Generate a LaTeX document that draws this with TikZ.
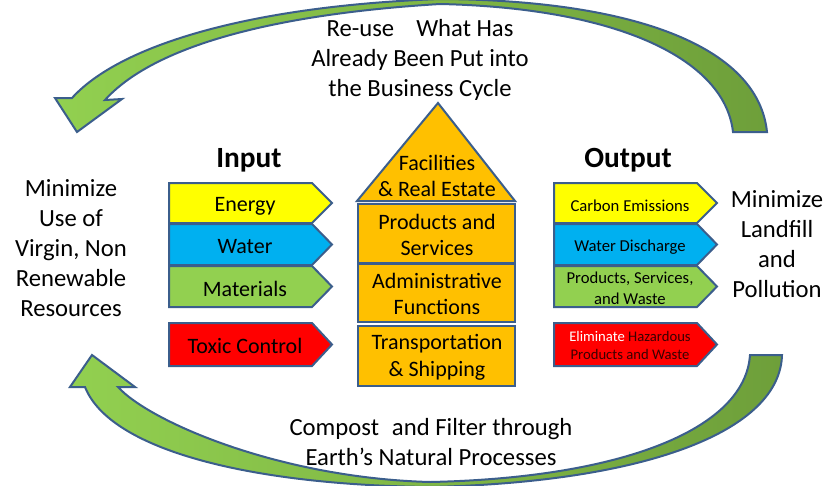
\documentclass[tikz,border=0pt]{standalone}
\usepackage{fontspec}
\setmainfont{Carlito}
\definecolor{bordercol}{HTML}{3B5E8C}
\definecolor{cyellow}{HTML}{FFFF00}
\definecolor{cblue}{HTML}{00B0F0}
\definecolor{cgreen}{HTML}{92D050}
\definecolor{cred}{HTML}{FF0000}
\definecolor{cgold}{HTML}{FFC000}
\definecolor{garrowL}{HTML}{92D050}
\definecolor{garrowR}{HTML}{6E9F3A}
\definecolor{darkred}{HTML}{3A0000}
\begin{document}
\begin{tikzpicture}[x=0.75pt,y=-0.75pt,
  shapebox/.style={draw=bordercol, line width=1.5pt, line join=miter},
  bigarrow/.style={draw=bordercol, line width=1.5pt, line join=miter},
  bigtxt/.style={font=\fontsize{18.5}{22.5}\selectfont, align=center, inner sep=0pt},
  boxtxt/.style={font=\fontsize{16.5}{20}\selectfont, align=center, inner sep=0pt},
  smalltxt/.style={font=\fontsize{12.5}{15.75}\selectfont, align=center, inner sep=0pt},
  tinytxt/.style={font=\fontsize{11}{13.5}\selectfont, align=center, inner sep=0pt},
  headtxt/.style={font=\fontsize{22}{26}\selectfont\bfseries, inner sep=0pt}]
\useasboundingbox (0,0) rectangle (840,486);
\fill[white] (0,0) rectangle (840,486);
\begin{scope}
\clip (0,0) rectangle (840,486);
% top curved arrow
\path[bigarrow, left color=garrowL, right color=garrowR]
  (733,132) -- (767,132)
  .. controls (758,45) and (630,0) .. (440,-1)
  .. controls (250,6) and (120,45) .. (72,98)
  -- (55,98) -- (77,132) -- (122,99) -- (105,100)
  .. controls (150,50) and (260,15) .. (440,4)
  .. controls (620,8) and (725,60) .. (733,132) -- cycle;
% bottom curved arrow
\path[bigarrow, left color=garrowL, right color=garrowR]
  (750,355) -- (782,355)
  .. controls (780,430) and (650,482) .. (430,487)
  .. controls (250,485) and (110,450) .. (85,387)
  -- (70,387) -- (92,355) -- (135,387) -- (118,387)
  .. controls (150,422) and (280,478) .. (430,482)
  .. controls (620,478) and (745,430) .. (750,355) -- cycle;
\end{scope}

% texts around
\node[bigtxt] (reuse) at (420,60) {Re-use\hspace{16.5pt}What Has\\Already Been Put into\\the Business Cycle};
\node[bigtxt] (compost) at (431,442) {Compost\hspace{9.75pt}and Filter through\\Earth’s Natural Processes};
\node[bigtxt] (minuse) at (71,248) {Minimize\\Use of\\Virgin, Non\\Renewable\\Resources};
\node[bigtxt] (minland) at (777,244) {Minimize\\Landfill\\and\\Pollution};
\node[headtxt] (input) at (249,160) {Input};
\node[headtxt] (output) at (628,160) {Output};

% input arrows
\path[shapebox, fill=cyellow] (169,183) -- (312,183) -- (332,203) -- (312,223) -- (169,223) -- cycle;
\path[shapebox, fill=cblue] (169,224) -- (312,224) -- (332,244.5) -- (312,265) -- (169,265) -- cycle;
\path[shapebox, fill=cgreen] (169,266) -- (312,266) -- (332,286.5) -- (312,307) -- (169,307) -- cycle;
\path[shapebox, fill=cred] (169,323) -- (312,323) -- (332,344.5) -- (312,366) -- (169,366) -- cycle;
\node[boxtxt] (energy) at (245,206) {Energy};
\node[boxtxt] (water) at (245,247) {Water};
\node[boxtxt] (materials) at (245,288.5) {Materials};
\node[boxtxt] (toxic) at (245,346) {Toxic Control};

% output arrows
\path[shapebox, fill=cyellow] (554,183) -- (697,183) -- (717,203) -- (697,223) -- (554,223) -- cycle;
\path[shapebox, fill=cblue] (554,224) -- (697,224) -- (717,244.5) -- (697,265) -- (554,265) -- cycle;
\path[shapebox, fill=cgreen] (554,266) -- (697,266) -- (717,286.5) -- (697,307) -- (554,307) -- cycle;
\path[shapebox, fill=cred] (554,323) -- (697,323) -- (717,344.5) -- (697,366) -- (554,366) -- cycle;
\node[smalltxt] (carbon) at (630,205.5) {Carbon Emissions};
\node[smalltxt] (discharge) at (630,247) {Water Discharge};
\node[smalltxt] (prodwaste) at (630,288) {Products, Services,\\and Waste};
\node[tinytxt] (hazard) at (630,345) {\textcolor{white}{Eliminate} \textcolor{darkred}{Hazardous}\\\textcolor{darkred}{Products and Waste}};

% house
\path[shapebox, fill=cgold] (357,201) -- (438,103) -- (515,201) -- cycle;
\path[shapebox, fill=cgold] (358,204) rectangle (515,263);
\path[shapebox, fill=cgold] (358,264) rectangle (515,322);
\path[shapebox, fill=cgold] (358,326) rectangle (515,386);
\node[boxtxt] (facilities) at (437,176) {Facilities\\\& Real Estate};
\node[boxtxt] (products) at (437,235) {Products and\\Services};
\node[boxtxt] (admin) at (437,294) {Administrative\\Functions};
\node[boxtxt] (transport) at (437,357) {Transportation\\\& Shipping};
\end{tikzpicture}
\end{document}
